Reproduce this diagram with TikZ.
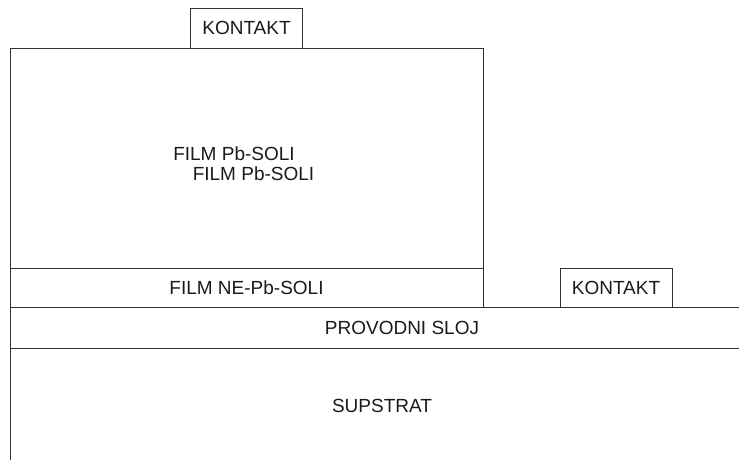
\documentclass[tikz,border=0pt]{standalone}
\usepackage{fontspec}
\setmainfont{Liberation Sans}
\usepackage{tikz}
\usetikzlibrary{positioning}
\definecolor{lineclr}{RGB}{51,51,51}
\definecolor{txtclr}{RGB}{26,26,26}
\tikzset{
    % layer boxes
    layer/.style={rectangle, draw=lineclr, line width=1pt, outer sep=0pt, inner sep=0pt,
                  text=txtclr, font=\fontsize{19}{22}\selectfont},
    contactbox/.style={layer, minimum width=112pt, minimum height=40pt},
    lbl/.style={text=txtclr, inner sep=0pt, font=\fontsize{19}{22}\selectfont},
}
\begin{document}
\begin{tikzpicture}[x=1pt, y=-1pt]
\useasboundingbox (0,0) rectangle (739,459);
\clip (0,0) rectangle (739,459);
% Pb-soli film with contact on top
\node[layer, minimum width=473pt, minimum height=220pt, anchor=north west] (pb) at (10,48) {};
\node[contactbox, above=0pt of pb] (konttop) {KONTAKT};
\node[lbl] (pbtxta) at ([shift={(-12.5,-4.5)}]pb.center) {FILM Pb-SOLI};
\node[lbl] (pbtxtb) at ([shift={(7,15.5)}]pb.center) {FILM Pb-SOLI};
% lower layers
\node[layer, minimum width=473pt, minimum height=39pt, below=0pt of pb] (nepb) {FILM NE-Pb-SOLI};
\node[layer, minimum width=784pt, minimum height=41pt, below=0pt of nepb.south west, anchor=north west] (sloj) {PROVODNI SLOJ};
\node[layer, minimum width=744pt, minimum height=116pt, below=0pt of sloj.south west, anchor=north west] (sup) {SUPSTRAT};
% second contact
\node[contactbox, minimum height=39pt, above=0pt of sloj.north west, anchor=south west, xshift=550pt] (kontright) {KONTAKT};
\end{tikzpicture}
\end{document}
